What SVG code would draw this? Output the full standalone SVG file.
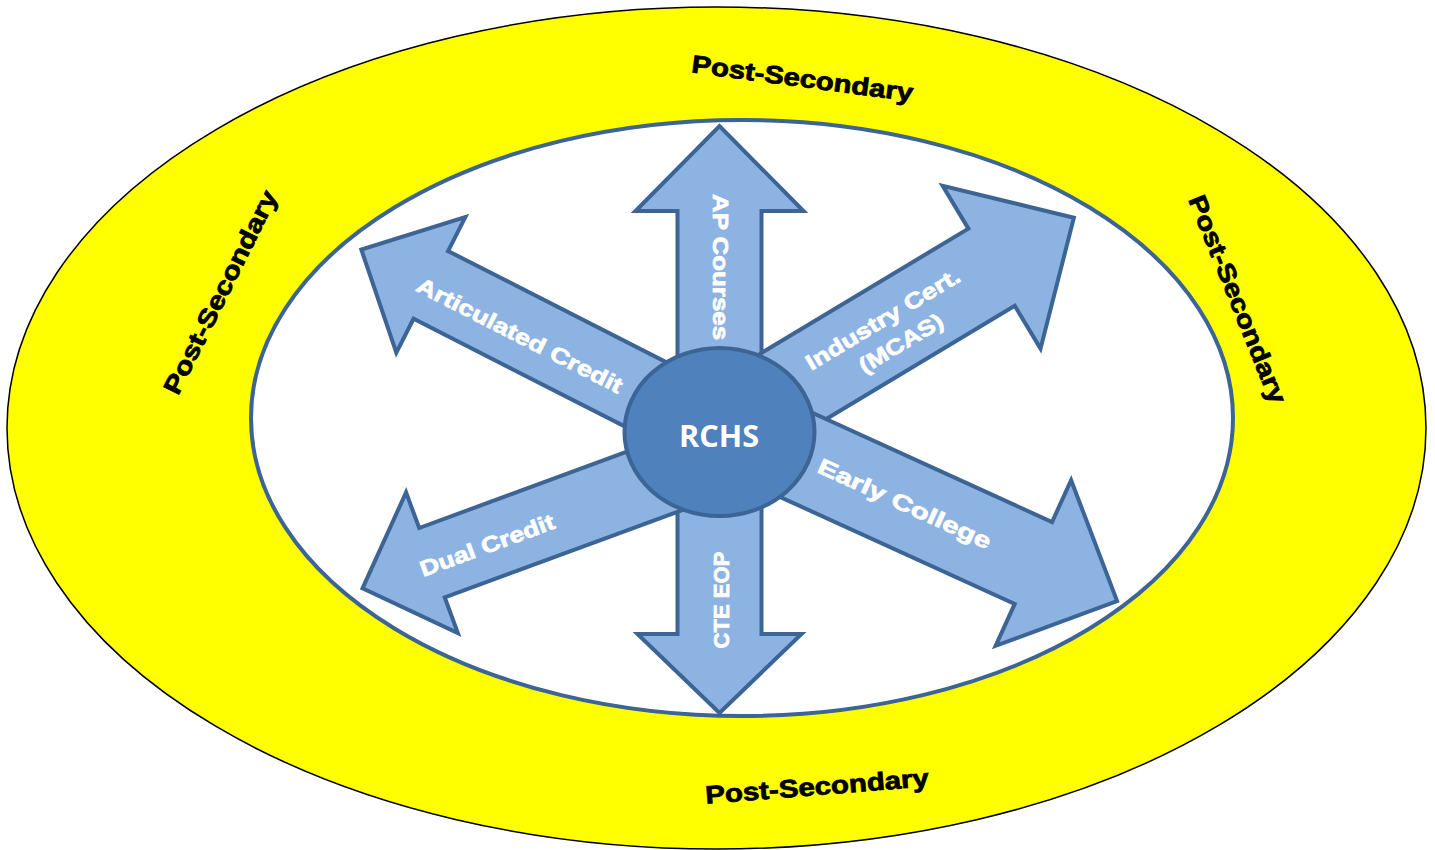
<svg xmlns="http://www.w3.org/2000/svg" width="1435" height="850" viewBox="0 0 1435 850">
  <style>
    .arrow { fill: #8db3e2; stroke: #3c6494; stroke-width: 4; stroke-linejoin: miter; }
    .lbl { font-family: "Liberation Sans", Arial, sans-serif; font-weight: bold; fill: #ffffff; stroke: #ffffff; stroke-width: 0.7; font-size: 22px; text-anchor: middle; }
    .ps { font-family: "Liberation Sans", Arial, sans-serif; font-weight: bold; fill: #000000; stroke: #000000; stroke-width: 0.8; font-size: 25px; text-anchor: middle; }
  </style>
  <rect width="1435" height="850" fill="#ffffff"/>
  <g id="outer-ring">
    <ellipse cx="716.5" cy="428" rx="709.5" ry="421" fill="#ffff00" stroke="#000000" stroke-width="1.5"/>
    <text class="ps" transform="translate(802.5,78) rotate(7.5)" x="0" y="9" textLength="223" lengthAdjust="spacingAndGlyphs">Post-Secondary</text>
    <text class="ps" transform="translate(817,786) rotate(-4.5)" x="0" y="9" textLength="224" lengthAdjust="spacingAndGlyphs">Post-Secondary</text>
    <text class="ps" transform="translate(220,292) rotate(-63.5)" x="0" y="9" textLength="224" lengthAdjust="spacingAndGlyphs">Post-Secondary</text>
    <text class="ps" transform="translate(1238,299) rotate(68)" x="0" y="9" textLength="222" lengthAdjust="spacingAndGlyphs">Post-Secondary</text>
  </g>
  <g id="inner-field">
    <ellipse cx="742" cy="418" rx="491" ry="298" fill="#ffffff" stroke="#3c6494" stroke-width="4"/>
  </g>
  <g id="connectors">
    <g id="arrow-ap">
      <polygon class="arrow" transform="translate(719.5,432) rotate(-90)" points="0,-42 221,-42 221,-84 306,0 221,84 221,42 0,42"/>
      <text class="lbl" transform="translate(720,267) rotate(90)" x="0" y="7.5" font-size="21" textLength="146" lengthAdjust="spacingAndGlyphs">AP Courses</text>
    </g>
    <g id="arrow-cte">
      <polygon class="arrow" transform="translate(719.5,432) rotate(90)" points="0,-42 202,-42 202,-82 281,0 202,82 202,42 0,42"/>
      <text class="lbl" transform="translate(721,600) rotate(-90)" x="0" y="7.5" font-size="21" textLength="97" lengthAdjust="spacingAndGlyphs">CTE EOP</text>
    </g>
    <g id="arrow-articulated">
      <polygon class="arrow" transform="translate(719.5,432) rotate(207)" points="0,-38 324,-38 324,-76 402,0 324,76 324,38 0,38"/>
      <text class="lbl" transform="translate(520,335) rotate(27)" x="0" y="8" textLength="228" lengthAdjust="spacingAndGlyphs">Articulated Credit</text>
    </g>
    <g id="arrow-dual">
      <polygon class="arrow" transform="translate(727.6,454) rotate(159.8)" points="0,-37 315,-37 315,-75 389,0 315,75 315,37 0,37"/>
      <text class="lbl" transform="translate(487,545) rotate(-20.2)" x="0" y="8" textLength="142" lengthAdjust="spacingAndGlyphs">Dual Credit</text>
    </g>
    <g id="arrow-industry">
      <polygon class="arrow" transform="translate(719,431) rotate(-31)" points="0,-45 318,-45 318,-95 414,0 318,95 318,45 0,45"/>
      <text class="lbl" transform="translate(893,330) rotate(-31)">
        <tspan x="0" y="-7" textLength="176" lengthAdjust="spacingAndGlyphs">Industry Cert.</tspan>
        <tspan x="0" y="23" textLength="94" lengthAdjust="spacingAndGlyphs">(MCAS)</tspan>
      </text>
    </g>
    <g id="arrow-early">
      <polygon class="arrow" transform="translate(724,422) rotate(24.5)" points="0,-45 340,-45 340,-91 432,0 340,91 340,45 0,45"/>
      <text class="lbl" transform="translate(905,503) rotate(24.5)" x="0" y="8.5" font-size="23" textLength="188" lengthAdjust="spacingAndGlyphs">Early College</text>
    </g>
  </g>
  <g id="hub">
    <ellipse cx="719.5" cy="432" rx="95" ry="84" fill="#4f81bd" stroke="#3c6494" stroke-width="4"/>
    <text x="719" y="447" font-family="'Open Sans', 'Noto Sans', sans-serif" font-weight="bold" font-size="31" fill="#ffffff" text-anchor="middle" textLength="80" lengthAdjust="spacingAndGlyphs">RCHS</text>
  </g>
</svg>
